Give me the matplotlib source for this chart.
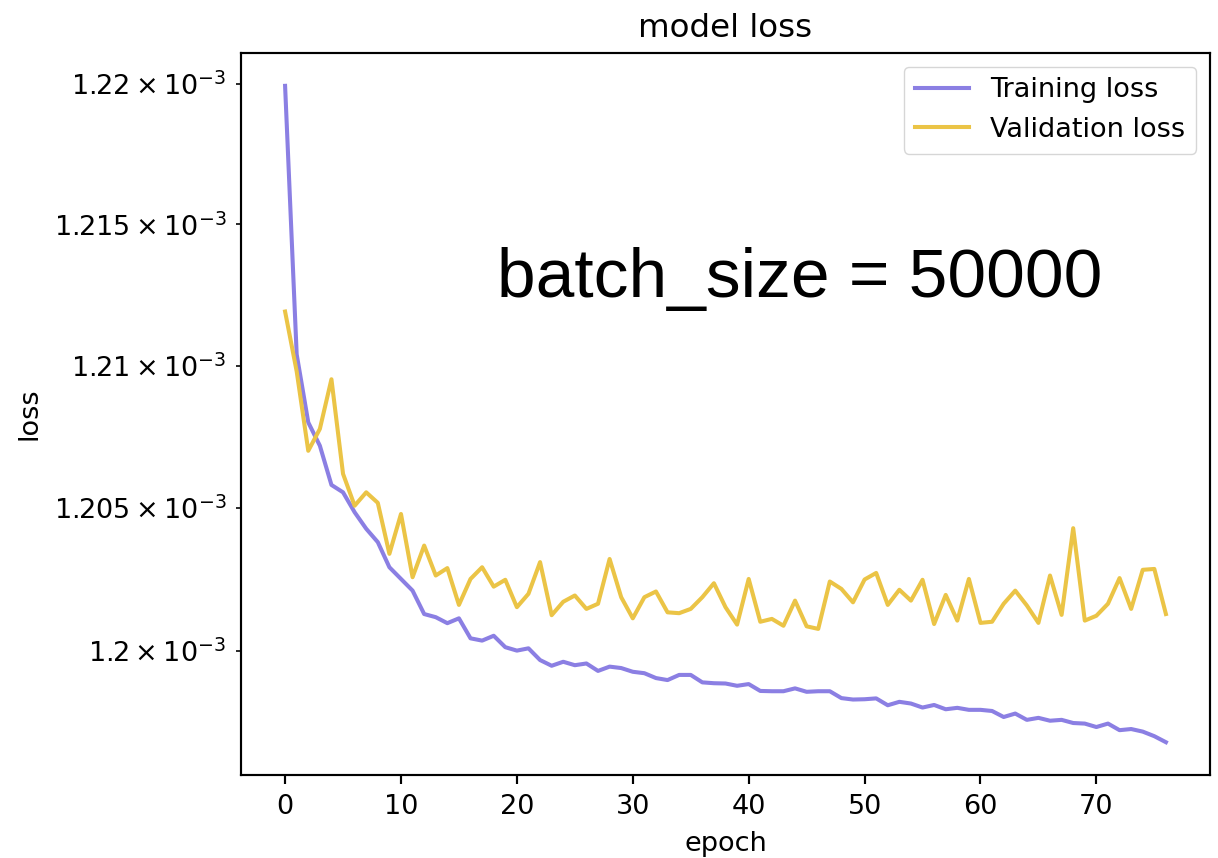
import matplotlib
matplotlib.use("Agg")
import matplotlib.pyplot as plt
import numpy as np

epochs = np.arange(77)

train_loss = np.array([
    1.21992, 1.21041, 1.20801, 1.20719, 1.20581, 1.20555, 1.20485, 1.20427,
    1.20380, 1.20292, 1.20251, 1.20210, 1.20128, 1.20117, 1.20096, 1.20113,
    1.20043, 1.20035, 1.20052, 1.20012, 1.20000, 1.20008, 1.19967, 1.19947,
    1.19961, 1.19949, 1.19955, 1.19929, 1.19944, 1.19939, 1.19926, 1.19921,
    1.19904, 1.19897, 1.19915, 1.19915, 1.19889, 1.19886, 1.19885, 1.19877,
    1.19883, 1.19859, 1.19858, 1.19858, 1.19868, 1.19856, 1.19858, 1.19858,
    1.19834, 1.19829, 1.19830, 1.19833, 1.19809, 1.19821, 1.19815, 1.19801,
    1.19810, 1.19795, 1.19800, 1.19793, 1.19793, 1.19789, 1.19768, 1.19780,
    1.19758, 1.19765, 1.19755, 1.19758, 1.19747, 1.19745, 1.19733, 1.19745,
    1.19722, 1.19726, 1.19717, 1.19701, 1.19680,
]) * 1e-3

val_loss = np.array([
    1.21192, 1.20981, 1.20701, 1.20778, 1.20953, 1.20620, 1.20508, 1.20555,
    1.20518, 1.20339, 1.20479, 1.20257, 1.20368, 1.20263, 1.20289, 1.20160,
    1.20251, 1.20292, 1.20224, 1.20248, 1.20152, 1.20199, 1.20310, 1.20124,
    1.20171, 1.20193, 1.20146, 1.20164, 1.20321, 1.20187, 1.20113, 1.20187,
    1.20207, 1.20134, 1.20131, 1.20146, 1.20187, 1.20236, 1.20152, 1.20091,
    1.20251, 1.20101, 1.20111, 1.20087, 1.20175, 1.20085, 1.20076, 1.20242,
    1.20216, 1.20169, 1.20249, 1.20272, 1.20160, 1.20213, 1.20175, 1.20248,
    1.20093, 1.20195, 1.20105, 1.20251, 1.20097, 1.20101, 1.20164, 1.20210,
    1.20158, 1.20097, 1.20263, 1.20125, 1.20429, 1.20105, 1.20122, 1.20164,
    1.20254, 1.20146, 1.20283, 1.20286, 1.20128,
]) * 1e-3

s = 1.95  # scale for the enlarged default style
plt.rcParams.update({
    "font.size": 10 * s,
    "lines.linewidth": 1.5 * s,
    "axes.linewidth": 0.8 * s,
    "xtick.major.size": 3.5 * s,
    "ytick.major.size": 3.5 * s,
    "xtick.minor.size": 2 * s,
    "ytick.minor.size": 2 * s,
    "xtick.major.width": 0.8 * s,
    "ytick.major.width": 0.8 * s,
    "xtick.minor.width": 0.6 * s,
    "ytick.minor.width": 0.6 * s,
    "xtick.major.pad": 3.5 * s,
    "ytick.major.pad": 3.5 * s,
    "ytick.minor.pad": 3.4 * s,
    "axes.titlepad": 6 * s,
    "axes.labelpad": 4 * s,
})

fig = plt.figure(figsize=(12.18, 8.58), dpi=100)
ax = fig.add_axes([0.1979, 0.0967, 0.7955, 0.8415])

ax.plot(epochs, train_loss, color="#8b7fe3", label="Training loss")
ax.plot(epochs, val_loss, color="#ebc446", label="Validation loss")
ax.set_yscale("log")

ax.set_title("model loss")
ax.set_xlabel("epoch")
ax.set_ylabel("loss")
ax.legend(loc="upper right")

ax.text(0.264, 0.662, "batch_size = 50000", transform=ax.transAxes,
        fontsize=50, family="Liberation Sans", va="baseline", ha="left")

fig.savefig("out.png", dpi=100)
